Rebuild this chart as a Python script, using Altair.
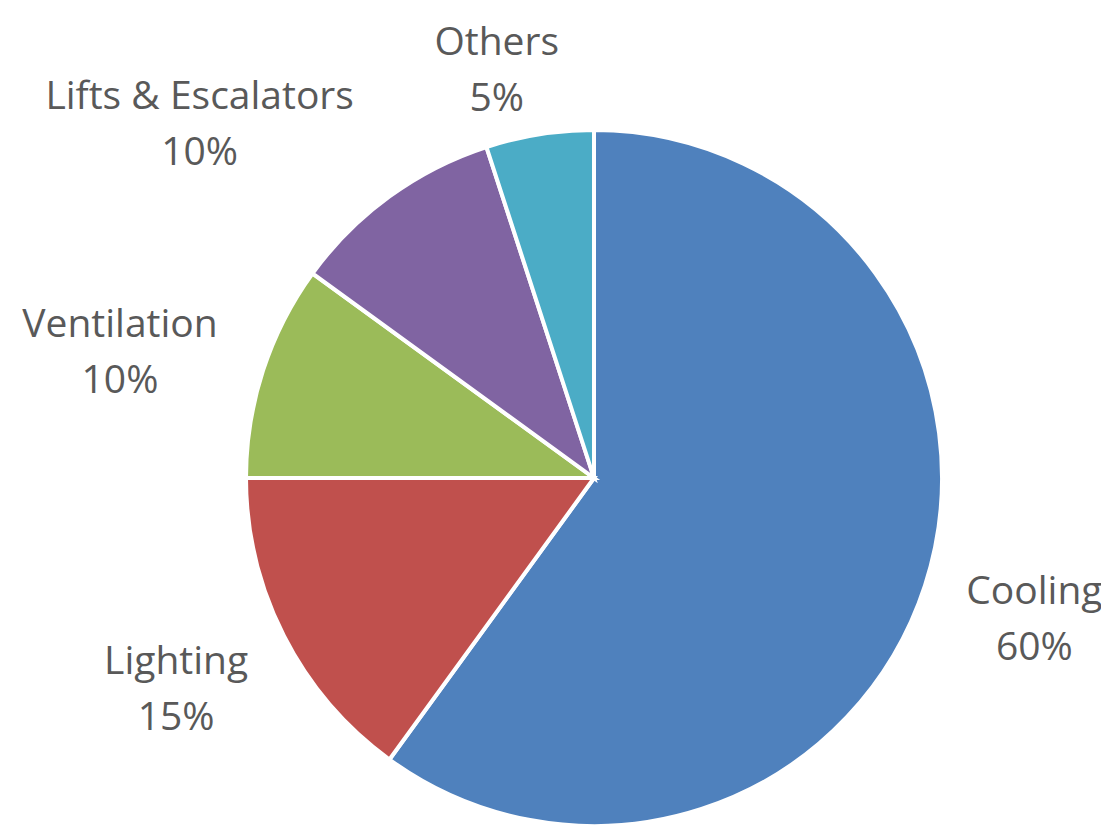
import altair as alt
import pandas as pd

categories = ["Cooling", "Lighting", "Ventilation", "Lifts & Escalators", "Others"]
shares = [60, 15, 10, 10, 5]
colors = ["#4F81BD", "#C0504D", "#9BBB59", "#8064A2", "#4BACC6"]

df = pd.DataFrame({"category": categories, "share": shares, "idx": list(range(len(categories)))})

R = 348
base = alt.Chart(df).transform_stack(
    stack="share", as_=["s0", "s1"], groupby=[], sort=[alt.SortField("idx")]
).transform_calculate(
    mid="(datum.s0 + datum.s1) / 2",
    label="datum.category + '\\n' + datum.share + '%'",
)

theta_scale = alt.Scale(domain=[0, 100])

arcs = base.mark_arc(outerRadius=R, stroke="white", strokeWidth=4).encode(
    theta=alt.Theta("s0:Q", scale=theta_scale, stack=None),
    theta2="s1:Q",
    color=alt.Color("category:N", scale=alt.Scale(domain=categories, range=colors), legend=None),
)

# label placement style (radius and nudges) per category
label_style = {
    "Cooling": dict(radius=463, dx=0, dy=-29),
    "Lighting": dict(radius=469, dx=0, dy=-29),
    "Ventilation": dict(radius=490, dx=-8, dy=-2),
    "Lifts & Escalators": dict(radius=528, dx=-84, dy=46),
    "Others": dict(radius=430, dx=-30, dy=-10),
}

layers = [arcs]
for cat in categories:
    st = label_style[cat]
    layers.append(
        base.transform_filter(alt.datum.category == cat).mark_text(
            font="Open Sans", fontSize=39, color="#595959", lineBreak="\n", lineHeight=56,
            align="center", baseline="middle", **st
        ).encode(
            theta=alt.Theta("mid:Q", scale=theta_scale, stack=None),
            text="label:N",
        )
    )

chart = alt.layer(*layers).properties(
    width=696, height=696,
    padding={"left": 238, "top": 122, "right": 159, "bottom": 0},
    autosize="none",
).configure_view(stroke=None)

chart.save("out.html", embed_options={"renderer": "svg", "actions": False})
